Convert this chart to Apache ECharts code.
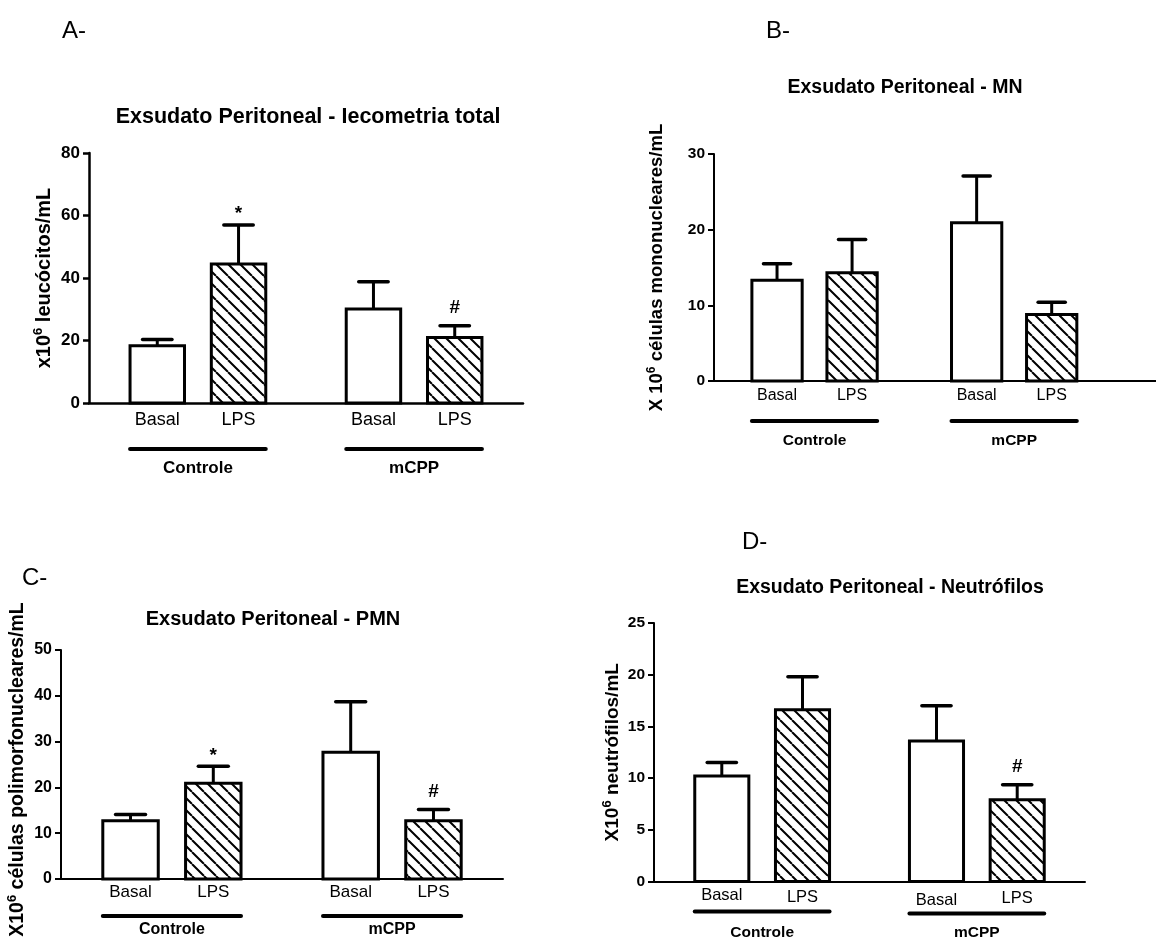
<!DOCTYPE html>
<html>
<head>
<meta charset="utf-8">
<title>Exsudato Peritoneal</title>
<script src="https://cdn.jsdelivr.net/npm/echarts@6/dist/echarts.min.js"></script>
<style>
  html, body { margin: 0; padding: 0; background: #fff; }
  #chart { width: 1156px; height: 940px; }
</style>
</head>
<body>
<div id="chart"></div>
<script>
// ---- data ----------------------------------------------------------------
const CATEGORIES = ['Basal', 'LPS', 'Basal', 'LPS'];
const GROUPS = ['Controle', 'mCPP'];

// A - total leukocyte count (x10^6 /mL): mean and SEM
const leucoMean = [18.3, 44.5, 30.1, 21.0];
const leucoSem  = [2.0, 12.5, 8.7, 3.7];
const leucoSig  = ['', '*', '', '#'];

// B - mononuclear cells
const mnMean = [13.3, 14.3, 20.9, 8.8];
const mnSem  = [2.2, 4.4, 6.2, 1.6];
const mnSig  = ['', '', '', ''];

// C - polymorphonuclear cells
const pmnMean = [12.7, 20.9, 27.7, 12.7];
const pmnSem  = [1.4, 3.7, 11.0, 2.5];
const pmnSig  = ['', '*', '', '#'];

// D - neutrophils
const neutMean = [10.2, 16.6, 13.6, 7.9];
const neutSem  = [1.3, 3.2, 3.4, 1.45];
const neutSig  = ['', '', '', '#'];

// ---- layout ---------------------------------------------------------------
const FONT = '"Liberation Sans", Arial, Helvetica, sans-serif';
const SLOTS = [0, 1, 2.66, 3.66];   // bar positions along the x axis
const BAR_W = 0.67;                 // bar width in slot units
const CAP_W = 0.54;                 // error cap width relative to bar
const TICK_LEN = 6;

const PANELS = [
  {
    letter: 'A-', letterPos: [62, 31],
    title: 'Exsudato Peritoneal - Iecometria total', titlePos: [308, 117], titleSize: 21.5,
    grid: { left: 89, top: 153, width: 434, height: 250 }, xMax: 4.5,
    yMax: 80, yStep: 20, tickSize: 17, axisW: 2.5,
    yName: ['x10', '6', ' leucócitos/mL'], yNameSize: 20, yNameGap: 33, yNameShift: 0,
    mean: leucoMean, sem: leucoSem, sig: leucoSig,
    catSize: 18, catDy: [17, 17, 17, 17],
    groupSize: 17, groupLineDy: [46, 46], groupLabelDy: 65
  },
  {
    letter: 'B-', letterPos: [766, 31],
    title: 'Exsudato Peritoneal - MN', titlePos: [905, 88], titleSize: 19.5,
    grid: { left: 714, top: 154, width: 442, height: 227 }, xMax: 5.05,
    yMax: 30, yStep: 10, tickSize: 15.5, axisW: 2,
    yName: ['X 10', '6', ' células mononucleares/mL'], yNameSize: 18.5, yNameGap: 46, yNameShift: 0,
    mean: mnMean, sem: mnSem, sig: mnSig,
    catSize: 16, catDy: [15, 15, 15, 15],
    groupSize: 15.5, groupLineDy: [40, 40], groupLabelDy: 60
  },
  {
    letter: 'C-', letterPos: [22, 578],
    title: 'Exsudato Peritoneal - PMN', titlePos: [273, 619], titleSize: 20,
    grid: { left: 61, top: 650, width: 442, height: 229 }, xMax: 4.5,
    yMax: 50, yStep: 10, tickSize: 16, axisW: 2,
    yName: ['X10', '6', ' células polimorfonucleares/mL'], yNameSize: 19.5, yNameGap: 32, yNameShift: 5,
    mean: pmnMean, sem: pmnSem, sig: pmnSig,
    catSize: 17, catDy: [13, 13, 13, 13],
    groupSize: 16, groupLineDy: [37, 37], groupLabelDy: 51
  },
  {
    letter: 'D-', letterPos: [742, 542],
    title: 'Exsudato Peritoneal - Neutrófilos', titlePos: [890, 588], titleSize: 19.5,
    grid: { left: 654, top: 623, width: 431, height: 258.5 }, xMax: 4.5,
    yMax: 25, yStep: 5, tickSize: 15.5, axisW: 2,
    yName: ['X10', '6', ' neutrófilos/mL'], yNameSize: 19, yNameGap: 30, yNameShift: 0,
    mean: neutMean, sem: neutSem, sig: neutSig,
    catSize: 16.5, catDy: [14, 16, 19, 17],
    groupSize: 15.5, groupLineDy: [30, 32], groupLabelDy: 51
  }
];

// diagonal "\\\" hatch used to fill the LPS bars
function makeHatch(step, lw) {
  const c = document.createElement('canvas');
  c.width = step; c.height = step;
  const g = c.getContext('2d');
  g.fillStyle = '#fff';
  g.fillRect(0, 0, step, step);
  g.strokeStyle = '#000';
  g.lineWidth = lw;
  g.beginPath();
  for (const k of [-step, 0, step]) {
    g.moveTo(k, 0);
    g.lineTo(k + step, step);
  }
  g.stroke();
  return c;
}
const HATCH = { image: makeHatch(12, 2), repeat: 'repeat' };

function barRenderer(panel) {
  return function (params, api) {
    const i = params.dataIndex;
    const x = api.value(0), v = api.value(1), e = api.value(2);
    const base = api.coord([x, 0]);
    const top = api.coord([x, v]);
    const errTop = api.coord([x, v + e]);
    const w = api.size([BAR_W, 0])[0];
    const cw = w * CAP_W;
    const children = [
      {
        type: 'line',
        shape: { x1: base[0], y1: top[1], x2: base[0], y2: errTop[1] },
        style: { stroke: '#000', lineWidth: 3 }
      },
      {
        type: 'line',
        shape: { x1: base[0] - cw / 2, y1: errTop[1], x2: base[0] + cw / 2, y2: errTop[1] },
        style: { stroke: '#000', lineWidth: 3.5, lineCap: 'round' }
      },
      {
        type: 'rect',
        shape: { x: base[0] - w / 2, y: top[1], width: w, height: base[1] - top[1] },
        style: { fill: i % 2 ? HATCH : '#fff', stroke: '#000', lineWidth: 3 }
      },
      {
        type: 'text',
        x: base[0], y: base[1] + panel.catDy[i],
        style: {
          text: CATEGORIES[i], fill: '#000',
          font: panel.catSize + 'px ' + FONT,
          align: 'center', verticalAlign: 'middle'
        }
      }
    ];
    const s = panel.sig[i];
    if (s) {
      children.push({
        type: 'text',
        x: base[0], y: errTop[1] - (s === '*' ? 11 : 18),
        style: {
          text: s, fill: '#000',
          font: 'bold 19px ' + FONT,
          align: 'center', verticalAlign: 'middle'
        }
      });
    }
    return { type: 'group', children };
  };
}

function groupRenderer(panel) {
  return function (params, api) {
    const g = params.dataIndex;
    const a = api.value(0), b = api.value(1);
    const p0 = api.coord([a - BAR_W / 2, 0]);
    const p1 = api.coord([b + BAR_W / 2, 0]);
    const mid = (p0[0] + p1[0]) / 2;
    const ly = p0[1] + panel.groupLineDy[g];
    return {
      type: 'group',
      children: [
        {
          type: 'line',
          shape: { x1: p0[0], y1: ly, x2: p1[0], y2: ly },
          style: { stroke: '#000', lineWidth: 4, lineCap: 'round' }
        },
        {
          type: 'text',
          x: mid, y: p0[1] + panel.groupLabelDy,
          style: {
            text: GROUPS[g], fill: '#000',
            font: 'bold ' + panel.groupSize + 'px ' + FONT,
            align: 'center', verticalAlign: 'middle'
          }
        }
      ]
    };
  };
}

const grid = [], xAxis = [], yAxis = [], series = [], graphic = [];

PANELS.forEach((p, k) => {
  grid.push(Object.assign({ containLabel: false }, p.grid));
  xAxis.push({
    type: 'value', gridIndex: k, min: -0.84, max: p.xMax,
    axisLine: { show: true, onZero: true, lineStyle: { color: '#000', width: p.axisW } },
    axisTick: { show: false }, axisLabel: { show: false }, splitLine: { show: false }
  });
  yAxis.push({
    type: 'value', gridIndex: k, min: 0, max: p.yMax, interval: p.yStep,
    axisLine: { show: true, onZero: false, lineStyle: { color: '#000', width: p.axisW } },
    axisTick: { show: true, inside: false, length: TICK_LEN, lineStyle: { color: '#000', width: p.axisW } },
    axisLabel: {
      color: '#000', fontFamily: FONT, fontWeight: 'bold',
      fontSize: p.tickSize, margin: TICK_LEN + 3
    },
    splitLine: { show: false },
    name: '{b|' + p.yName[0] + '}{s|' + p.yName[1] + '}{b|' + p.yName[2] + '}',
    nameLocation: 'middle', nameRotate: 90, nameGap: p.yNameGap,
    nameTextStyle: {
      color: '#000',
      padding: [0, p.yNameShift * 2, 0, 0],
      rich: {
        b: { fontFamily: FONT, fontWeight: 'bold', fontSize: p.yNameSize, lineHeight: p.yNameSize + 4, color: '#000' },
        s: { fontFamily: FONT, fontWeight: 'bold', fontSize: Math.round(p.yNameSize * 0.66), verticalAlign: 'top', lineHeight: 13, color: '#000' }
      }
    }
  });

  series.push({
    type: 'custom', xAxisIndex: k, yAxisIndex: k, clip: false,
    renderItem: barRenderer(p),
    data: p.mean.map((m, i) => [SLOTS[i], m, p.sem[i]]),
    animation: false, silent: true
  });
  series.push({
    type: 'custom', xAxisIndex: k, yAxisIndex: k, clip: false,
    renderItem: groupRenderer(p),
    data: [[SLOTS[0], SLOTS[1]], [SLOTS[2], SLOTS[3]]],
    animation: false, silent: true
  });

  graphic.push({
    type: 'text', x: p.letterPos[0], y: p.letterPos[1],
    style: { text: p.letter, font: '24px ' + FONT, fill: '#000', align: 'left', verticalAlign: 'middle' }
  });
  graphic.push({
    type: 'text', x: p.titlePos[0], y: p.titlePos[1],
    style: { text: p.title, font: 'bold ' + p.titleSize + 'px ' + FONT, fill: '#000', align: 'center', verticalAlign: 'middle' }
  });
});

const chart = echarts.init(document.getElementById('chart'), null, { renderer: 'canvas' });
chart.setOption({
  backgroundColor: '#fff',
  animation: false,
  grid, xAxis, yAxis, series, graphic
});
</script>
</body>
</html>
